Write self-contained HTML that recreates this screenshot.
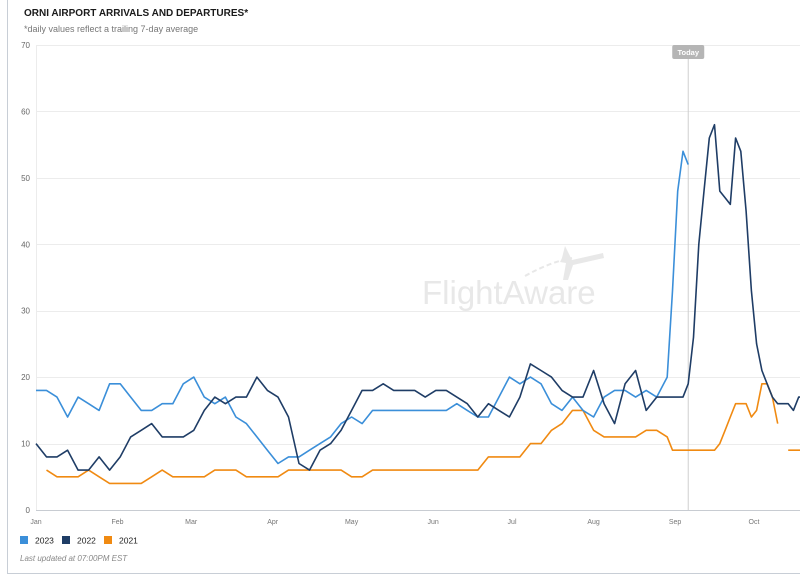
<!DOCTYPE html>
<html><head><meta charset="utf-8">
<style>
html,body{margin:0;padding:0;background:#fff;width:800px;height:579px;overflow:hidden;font-family:"Liberation Sans",sans-serif}
svg{display:block}
</style></head>
<body>
<svg id="chart" width="800" height="579">
  <line x1="7.5" y1="0" x2="7.5" y2="574" stroke="#c8ced6" stroke-width="1"/>
  <line x1="7" y1="573.5" x2="800" y2="573.5" stroke="#c8ced6" stroke-width="1"/>
  <text x="24" y="16" font-size="10" font-weight="bold" fill="#1a1a1a">ORNI AIRPORT ARRIVALS AND DEPARTURES*</text>
  <text x="24" y="32" font-size="9" fill="#777">*daily values reflect a trailing 7-day average</text>
  <g id="grid"></g>
  <g id="watermark">
    <text x="422" y="304" font-size="33" fill="#e8e8e8">FlightAware</text>
    <path d="M525 276 Q550 262 572 258" stroke="#e8e8e8" stroke-width="2" fill="none" stroke-dasharray="5,3"/>
    <path d="M565 246 L572 260 L603 253 L604 258 L573 265 L568 280 L563 280 L566 263 L560 262 L562 258 Z" fill="#e8e8e8"/>
  </g>
  <g id="today"></g>
  <g id="series"></g>
  <g id="axes"></g>
  <g id="legend"></g>
  <text x="20" y="561" font-size="8" font-style="italic" fill="#888">Last updated at 07:00PM EST</text>
</svg>
<script>
const days = [0,4,8,12,16,20,24,28,32,36,40,44,48,52,56,60,64,68,72,76,80,84,88,92,96,100,104,108,112,116,120,124,128,132,136,140,144,148,152,156,160,164,168,172,176,180,184,188,192,196,200,204,208,212,216,220,224,228,232,236,240,242,244,246,248,250,252,254,256,258,260,262,264,266,268,270,272,274,276,278,280,282,284,286,288,290,292];
const values2023 = [18,18,17,14,17,16,15,19,19,17,15,15,16,16,19,20,17,16,17,14,13,11,9,7,8,8,9,10,11,13,14,13,15,15,15,15,15,15,15,15,16,15,14,14,17,20,19,20,19,16,15,17,15,14,17,18,18,17,18,17,20,33,48,54,52,null,null,null,null,null,null,null,null,null,null,null,null,null,null,null,null,null,null,null,null,null,null];
const values2022 = [10,8,8,9,6,6,8,6,8,11,12,13,11,11,11,12,15,17,16,17,17,20,18,17,14,7,6,9,10,12,15,18,18,19,18,18,18,17,18,18,17,16,14,16,15,14,17,22,21,20,18,17,17,21,16,13,19,21,15,17,17,17,17,17,19,26,40,48,56,58,48,47,46,56,54,45,33,25,21,19,17,16,16,16,15,17,17];
const values2021 = [null,6,5,5,5,6,5,4,4,4,4,5,6,5,5,5,5,6,6,6,5,5,5,5,6,6,6,6,6,6,5,5,6,6,6,6,6,6,6,6,6,6,6,8,8,8,8,10,10,12,13,15,15,12,11,11,11,11,12,12,11,9,9,9,9,9,9,9,9,9,10,12,14,16,16,16,14,15,19,19,17,13,null,9,9,9,9];
const seriesNames = ["2023","2022","2021"];
const seriesColors = ["#3b8fd9","#1f3d66","#f08a12"];
const yTicks = [0,10,20,30,40,50,60,70];
const monthLabels = ["Jan","Feb","Mar","Apr","May","Jun","Jul","Aug","Sep","Oct"];
const monthStarts = [0,31,59,90,120,151,181,212,243,273];
const todayDay = 248;

const NS="http://www.w3.org/2000/svg";
const X0=36, PX_PER_DAY=2.63, Y0=510, PX_PER_UNIT=465/70;
function xs(d){return X0+d*PX_PER_DAY;}
function ys(v){return Y0-v*PX_PER_UNIT;}
function mk(tag,attrs,parent){const e=document.createElementNS(NS,tag);for(const k in attrs)e.setAttribute(k,attrs[k]);parent.appendChild(e);return e;}

const grid=document.getElementById('grid');
const axes=document.getElementById('axes');
yTicks.forEach(t=>{
  const y=Math.round(ys(t))+0.5;
  const gl=mk('line',{x1:X0,x2:800,y1:y,y2:y,stroke:t===0?'#c8ccd2':'#ececec','stroke-width':1},grid);
  
  
  const tl=mk('text',{x:30,y:ys(t)+3,'font-size':8,fill:'#666','text-anchor':'end'},axes);
  tl.textContent=t;
  
  
});
const yl=mk('line',{x1:X0+0.5,x2:X0+0.5,y1:ys(70),y2:Y0,stroke:'#ececec','stroke-width':1},grid);


monthLabels.forEach((m,i)=>{
  const tl=mk('text',{x:xs(monthStarts[i]),y:524,'font-size':7,fill:'#777','text-anchor':'middle'},axes);
  tl.textContent=m;
  
  
});

const today=document.getElementById('today');
const tx=xs(todayDay);
mk('line',{x1:tx,x2:tx,y1:58,y2:Y0,stroke:'#cfcfcf','stroke-width':1},today);
mk('rect',{x:tx-16,y:45,width:32,height:14,rx:2,fill:'#b5b5b5'},today);
const tt=mk('text',{x:tx,y:55,'font-size':7.5,'font-weight':'bold',fill:'#fff','text-anchor':'middle'},today);
tt.textContent='Today';



const seriesG=document.getElementById('series');
const allValues=[values2023,values2022,values2021];
[2,0,1].forEach(si=>{
  const vals=allValues[si];
  let d='',pen=false;
  for(let i=0;i<days.length;i++){
    const v=vals[i];
    if(v===null||v===undefined){pen=false;continue;}
    d+=(pen?'L':'M')+xs(days[i]).toFixed(1)+' '+ys(v).toFixed(1)+' ';
    pen=true;
  }
  const p=mk('path',{d:d,fill:'none',stroke:seriesColors[si],'stroke-width':1.6,'stroke-linejoin':'round'},seriesG);
  
  
});

const legend=document.getElementById('legend');
const lx=[20,62,104];
seriesNames.forEach((n,i)=>{
  const g=mk('g',{},legend);
  
  
  mk('rect',{x:lx[i],y:536,width:8,height:8,fill:seriesColors[i]},g);
  const t=mk('text',{x:lx[i]+15,y:543.5,'font-size':8.5,fill:'#222'},g);
  t.textContent=n;
});
</script>
</body></html>
